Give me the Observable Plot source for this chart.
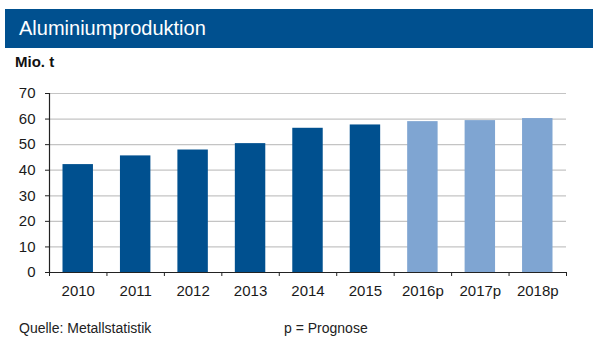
<!DOCTYPE html>
<html>
<head>
<meta charset="utf-8">
<script src="https://cdn.jsdelivr.net/npm/d3@7"></script>
<script src="https://cdn.jsdelivr.net/npm/@observablehq/plot@0.6"></script>
<style>
  html, body { margin: 0; padding: 0; background: #fff; }
  #wrap { position: relative; width: 601px; height: 351px; overflow: hidden; font-family: "Liberation Sans", Arial, sans-serif; color: #1a1a1a; }
  #header { position: absolute; left: 5px; top: 9px; width: 588px; height: 39px; background: #00508F; }
  #title { position: absolute; left: 14px; top: 0; line-height: 39px; font-size: 20px; color: #fff; }
  #unit { position: absolute; left: 15px; top: 53px; font-size: 15px; font-weight: bold; color: #111; }
  #chart { position: absolute; left: 0; top: 80px; }
  .foot { position: absolute; top: 320px; font-size: 14px; color: #222; }
</style>
</head>
<body>
<div id="wrap">
  <div id="header"><div id="title">Aluminiumproduktion</div></div>
  <div id="unit">Mio. t</div>
  <div id="chart"></div>
  <div class="foot" style="left:19px">Quelle: Metallstatistik</div>
  <div class="foot" style="left:284px">p = Prognose</div>
</div>
<script>
const years = ["2010", "2011", "2012", "2013", "2014", "2015", "2016p", "2017p", "2018p"];
const values = [42.2, 45.6, 47.9, 50.4, 56.4, 57.7, 59.0, 59.4, 60.2];
const forecast = [false, false, false, false, false, false, true, true, true];
const yTicks = [0, 10, 20, 30, 40, 50, 60, 70];

const data = years.map((y, i) => ({i, year: y, value: values[i], type: forecast[i] ? "Prognose" : "Ist"}));

const chart = Plot.plot({
  width: 601,
  height: 230,
  marginTop: 13,
  marginBottom: 38,
  marginLeft: 49,
  marginRight: 35,
  style: {fontFamily: "Liberation Sans, Arial, sans-serif", fontSize: "15px", color: "#1a1a1a", background: "transparent"},
  x: {type: "linear", domain: [0, years.length]},
  y: {domain: [0, 70]},
  color: {domain: ["Ist", "Prognose"], range: ["#00508F", "#7FA5D2"]},
  marks: [
    Plot.ruleY(yTicks.filter(d => d > 0), {stroke: "#c4c4c4", strokeWidth: 1.2}),
    Plot.rectY(data, {x1: "i", x2: d => d.i + 1, y: "value", fill: "type", insetLeft: 13.5, insetRight: 13.5}),
    Plot.ruleY([0], {stroke: "#222", strokeWidth: 1.2}),
    Plot.ruleX([0], {stroke: "#222", strokeWidth: 1.2}),
    Plot.axisY({ticks: yTicks, tickSize: 4, tickPadding: 10, stroke: "#222", label: null, fontSize: 15}),
    Plot.axisX({ticks: d3.range(years.length + 1), tickSize: 4, tickFormat: () => "", stroke: "#222", label: null}),
    Plot.axisX({ticks: d3.range(years.length).map(i => i + 0.5), tickSize: 0, tickPadding: 13, tickFormat: t => years[Math.floor(t)], label: null, fontSize: 15})
  ]
});
document.getElementById("chart").appendChild(chart);
</script>
</body>
</html>
